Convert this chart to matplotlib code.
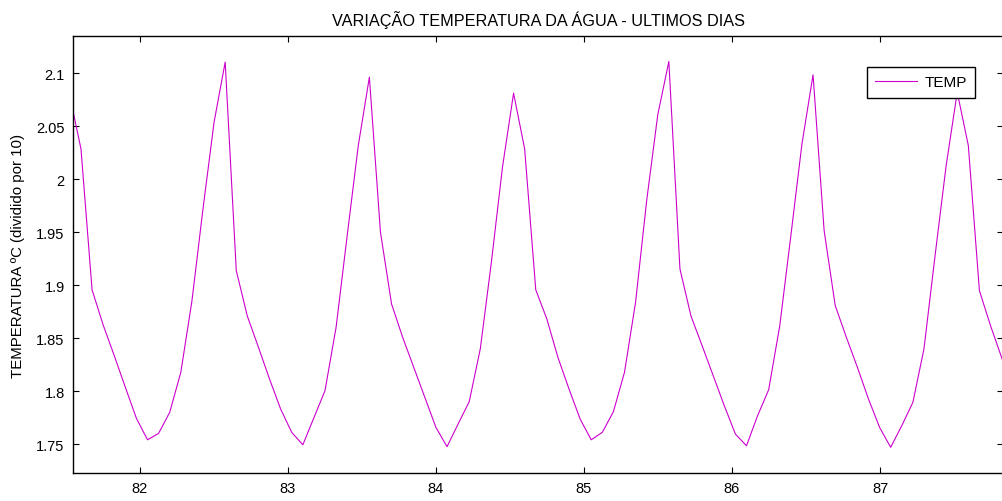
import numpy as np
import matplotlib
matplotlib.use("Agg")
import matplotlib.pyplot as plt

plt.rcParams['font.family'] = ['Liberation Sans', 'DejaVu Sans']

# tempo (dias) - amostras a cada ~0.075 dia
x0 = 81.529
dx = 0.0749
temp = [2.078, 2.0286, 1.8957, 1.8625, 1.8336, 1.8038, 1.7745, 1.7543, 1.7604, 1.7802,
        1.8179, 1.885, 1.972, 2.0538, 2.1104, 1.9138, 1.8708, 1.8415, 1.8116, 1.7833,
        1.7613, 1.7496, 1.7751, 1.8006, 1.8604, 1.9468, 2.0317, 2.0962, 1.95, 1.8824,
        1.851, 1.8226, 1.7943, 1.766, 1.7478, 1.7692, 1.7902, 1.84, 1.9217, 2.0113,
        2.0811, 2.0286, 1.8958, 1.8682, 1.832, 1.8022, 1.7739, 1.7543, 1.7613, 1.7808,
        1.8179, 1.884, 1.9798, 2.0607, 2.111, 1.9154, 1.8708, 1.843, 1.8147, 1.7864,
        1.7597, 1.7487, 1.777, 1.8015, 1.8619, 1.9468, 2.0333, 2.0984, 1.9515, 1.8808,
        1.851, 1.8226, 1.7927, 1.766, 1.7472, 1.7676, 1.7896, 1.84, 1.9279, 2.0128,
        2.082, 2.0317, 1.8949, 1.8619, 1.832, 1.80]
dias = x0 + dx * np.arange(len(temp))

xticks = [82, 83, 84, 85, 86, 87]
yticks = [1.75, 1.8, 1.85, 1.9, 1.95, 2.0, 2.05, 2.1]
yticklabels = ['1.75', '1.8', '1.85', '1.9', '1.95', '2', '2.05', '2.1']

fig = plt.figure(figsize=(10.02, 5.02), dpi=100)
ax = fig.add_axes([73/1002, 28/502, 930/1002, 437/502])

ax.plot(dias, temp, color='#cc00cc', linewidth=0.8, label='TEMP')

ax.set_xlim(81.55, 87.83)
ax.set_ylim(1.723, 2.135)
ax.set_xticks(xticks)
ax.set_xticklabels([str(t) for t in xticks])
ax.set_yticks(yticks)
ax.set_yticklabels(yticklabels)
ax.tick_params(direction='in', length=4, width=0.8, labelsize=10.5,
               top=True, right=True, pad=6)
for s in ax.spines.values():
    s.set_linewidth(1.0)

ax.set_title('VARIAÇÃO TEMPERATURA DA ÁGUA - ULTIMOS DIAS', fontsize=11.7, pad=8)
ax.set_ylabel('TEMPERATURA ºC (dividido por 10)', fontsize=10.8, labelpad=8)

leg = ax.legend(loc='upper right', bbox_to_anchor=((975 - 73) / 930, (474 - 68) / 437),
                fontsize=11, fancybox=False, framealpha=1, edgecolor='black',
                handlelength=2.7, handletextpad=0.5, borderaxespad=0,
                borderpad=0.55)
leg.get_frame().set_linewidth(1.0)

fig.savefig('out.png', dpi=100)
